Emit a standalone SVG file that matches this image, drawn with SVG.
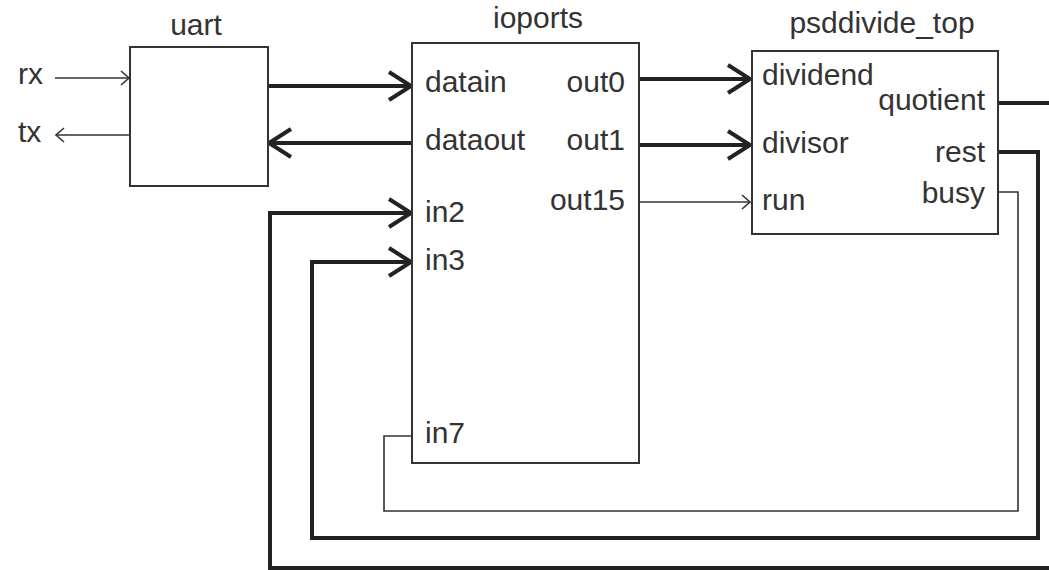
<svg xmlns="http://www.w3.org/2000/svg" width="1049" height="570" viewBox="0 0 1049 570">
<style>
text{font-family:"Liberation Sans",Arial,sans-serif;font-size:30px;fill:#333}
.box{fill:#fff;stroke:#333;stroke-width:2}
.thick{fill:none;stroke:#222;stroke-width:4}
.thin{fill:none;stroke:#333;stroke-width:1.6}
.end{text-anchor:end}
.mid{text-anchor:middle}
</style>
<defs>
<marker id="ah" markerUnits="userSpaceOnUse" markerWidth="30" markerHeight="34" refX="24" refY="17" orient="auto">
<path d="M2,3 L24,17 L2,31" fill="none" stroke="#222" stroke-width="4"/>
</marker>
<marker id="as" markerUnits="userSpaceOnUse" markerWidth="14" markerHeight="18" refX="10" refY="9" orient="auto">
<path d="M2,2 L10,9 L2,16" fill="none" stroke="#333" stroke-width="1.6"/>
</marker>
</defs>
<g id="connectors">
<path class="thin" d="M55,78 H129" marker-end="url(#as)"/>
<path class="thin" d="M130,135 H56" marker-end="url(#as)"/>
<path class="thick" d="M268,86 H411" marker-end="url(#ah)"/>
<path class="thick" d="M412,143 H269" marker-end="url(#ah)"/>
<path class="thick" d="M639,79 H750" marker-end="url(#ah)"/>
<path class="thick" d="M639,145 H750" marker-end="url(#ah)"/>
<path class="thin" d="M639,202 H750" marker-end="url(#as)"/>
<path class="thick" d="M998,103 H1049"/>
<path class="thick" d="M1049,568 H270 V213 H411" marker-end="url(#ah)"/>
<path class="thick" d="M998,152 H1038 V538 H312 V262 H411" marker-end="url(#ah)"/>
<path class="thin" d="M998,192 H1018 V511 H384 V436 H412"/>
</g>
<g id="uart">
<rect class="box" x="130" y="47" width="138" height="139"/>
<text class="mid" x="196" y="35">uart</text>
</g>
<g id="rx"><text x="18" y="84">rx</text></g>
<g id="tx"><text x="18" y="142">tx</text></g>
<g id="ioports">
<rect class="box" x="412" y="43" width="227" height="420"/>
<text class="mid" x="538" y="28">ioports</text>
<text x="425" y="92">datain</text>
<text x="425" y="150">dataout</text>
<text x="425" y="222">in2</text>
<text x="425" y="270">in3</text>
<text x="425" y="443">in7</text>
<text class="end" x="625" y="92">out0</text>
<text class="end" x="625" y="150">out1</text>
<text class="end" x="625" y="210">out15</text>
</g>
<g id="psddivide_top">
<rect class="box" x="752" y="51" width="246" height="183"/>
<text class="mid" x="882" y="33">psddivide_top</text>
<text x="762" y="85">dividend</text>
<text x="762" y="153">divisor</text>
<text x="762" y="210">run</text>
<text class="end" x="985" y="110">quotient</text>
<text class="end" x="985" y="162">rest</text>
<text class="end" x="985" y="203">busy</text>
</g>
</svg>
